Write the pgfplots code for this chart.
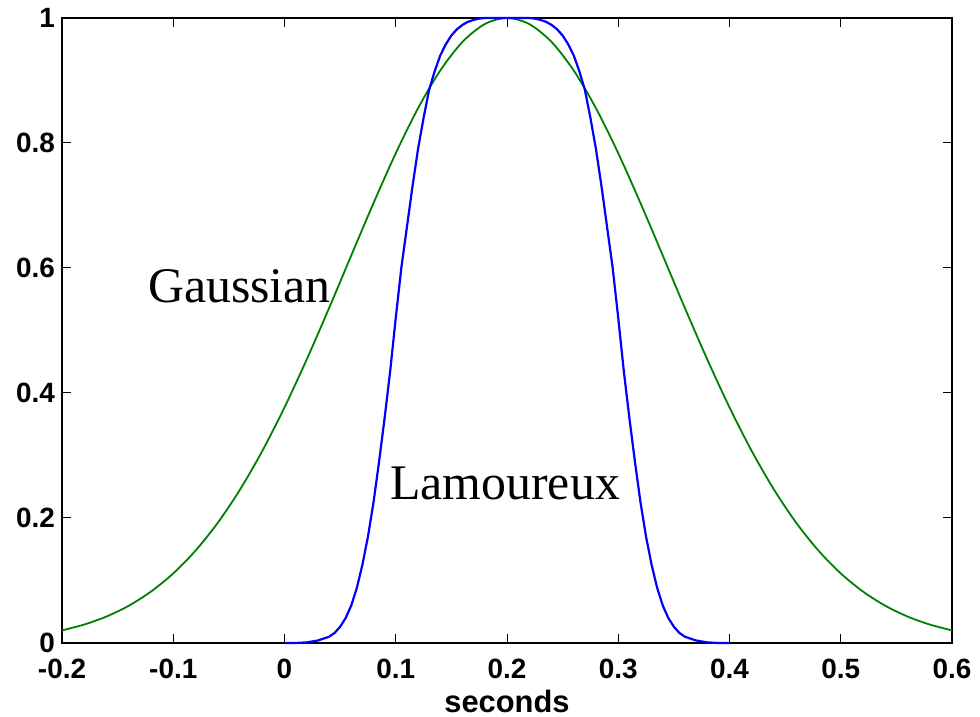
\documentclass[border=0pt]{standalone}
\usepackage{fontspec}
\setmainfont{Liberation Serif}
\newfontfamily\arialf{Liberation Sans}
\usepackage{pgfplots}
\pgfplotsset{compat=1.18}
\definecolor{mgreen}{RGB}{0,128,0}
\definecolor{mblue}{RGB}{0,0,255}
\begin{document}
\begin{tikzpicture}
\useasboundingbox (-62bp,-74bp) rectangle (918bp,643bp);
\begin{axis}[
  scale only axis,
  width=890bp, height=625bp,
  xmin=-0.2, xmax=0.6, ymin=0, ymax=1,
  xtick={-0.2,-0.1,0,0.1,0.2,0.3,0.4,0.5,0.6},
  ytick={0,0.2,0.4,0.6,0.8,1},
  tick align=inside,
  major tick length=9bp,
  axis line style={line width=1.2bp},
  every tick/.style={black, line width=1bp},
  /pgf/number format/assume math mode=true,
  ticklabel style={font=\arialf\bfseries\fontsize{28}{28}\selectfont, inner sep=0pt},
  xticklabel style={yshift=-16bp},
  yticklabel style={xshift=-7bp},
  xlabel={seconds},
  xlabel style={font=\arialf\bfseries\fontsize{31}{31}\selectfont, at={(axis description cs:0.5,0)}, anchor=base, yshift=-69bp, inner sep=0pt},
  clip=false,
]
\addplot[mgreen, line width=1.8bp, smooth] coordinates {
(-0.20,0.02019) (-0.18,0.02954) (-0.16,0.04238) (-0.14,0.05963) (-0.12,0.08229)
(-0.10,0.11136) (-0.08,0.14774) (-0.06,0.19229) (-0.04,0.24539) (-0.02,0.30712)
(0.00,0.37698) (0.02,0.45377) (0.04,0.53557) (0.06,0.62002) (0.08,0.70380)
(0.10,0.78356) (0.12,0.85547) (0.14,0.91594) (0.16,0.96175) (0.18,0.99029)
(0.20,1.00000)
(0.22,0.99029) (0.24,0.96175) (0.26,0.91594) (0.28,0.85547) (0.30,0.78356)
(0.32,0.70380) (0.34,0.62002) (0.36,0.53557) (0.38,0.45377) (0.40,0.37698)
(0.42,0.30712) (0.44,0.24539) (0.46,0.19229) (0.48,0.14774) (0.50,0.11136)
(0.52,0.08229) (0.54,0.05963) (0.56,0.04238) (0.58,0.02954) (0.60,0.02019)
};
\addplot[mblue, line width=2.2bp] coordinates {
(0.000,0) (0.010,0) (0.020,0.001) (0.030,0.004) (0.040,0.010) (0.045,0.016)
(0.050,0.026) (0.055,0.040) (0.060,0.060) (0.065,0.088) (0.070,0.125)
(0.075,0.170) (0.080,0.225) (0.085,0.290) (0.090,0.360) (0.095,0.435)
(0.100,0.520) (0.105,0.600) (0.110,0.665) (0.115,0.730) (0.120,0.790)
(0.125,0.840) (0.130,0.885) (0.135,0.915) (0.140,0.940) (0.145,0.958)
(0.150,0.972) (0.155,0.982) (0.160,0.989) (0.165,0.994) (0.170,0.997)
(0.175,0.999) (0.180,1.000) (0.200,1.000) (0.220,1.000)
(0.225,0.999) (0.230,0.997) (0.235,0.994) (0.240,0.989) (0.245,0.982)
(0.250,0.972) (0.255,0.958) (0.260,0.940) (0.265,0.915) (0.270,0.885)
(0.275,0.840) (0.280,0.790) (0.285,0.730) (0.290,0.665) (0.295,0.600)
(0.300,0.520) (0.305,0.435) (0.310,0.360) (0.315,0.290) (0.320,0.225)
(0.325,0.170) (0.330,0.125) (0.335,0.088) (0.340,0.060) (0.345,0.040)
(0.350,0.026) (0.355,0.016) (0.360,0.010) (0.370,0.004) (0.380,0.001)
(0.390,0) (0.400,0)
};
\node[anchor=base west, inner sep=0pt, font=\fontsize{50}{50}\selectfont] at (axis cs:-0.1228,0.544) {Gaussian};
\node[anchor=base west, inner sep=0pt, font=\fontsize{50}{50}\selectfont] at (axis cs:0.0949,0.229) {Lamoureux};
\end{axis}
\end{tikzpicture}
\end{document}
